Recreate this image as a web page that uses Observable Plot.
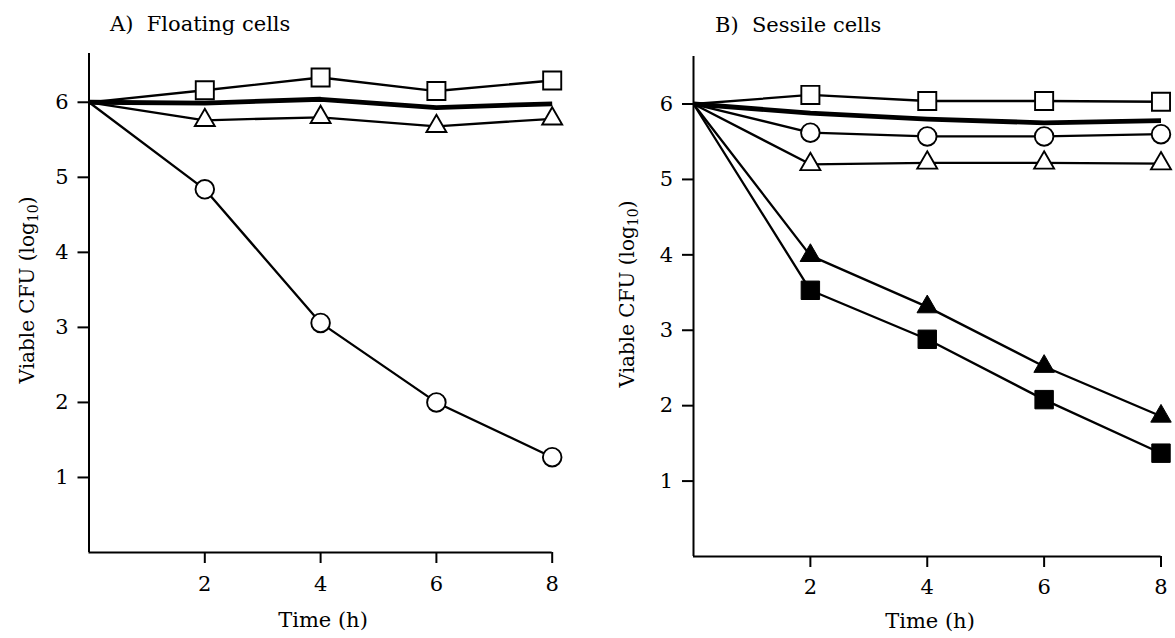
<!DOCTYPE html>
<html>
<head>
<meta charset="utf-8">
<script src="https://cdn.jsdelivr.net/npm/d3@7"></script>
<script src="https://cdn.jsdelivr.net/npm/@observablehq/plot@0.6"></script>
<style>
  body { margin: 0; background: #fff; width: 1175px; height: 638px; position: relative; overflow: hidden;
         font-family: "DejaVu Serif", serif; color: #000; }
  .panel { position: absolute; top: 0; }
  .title { position: absolute; font-size: 21px; white-space: pre; line-height: 1; }
  .ylab { position: absolute; font-size: 20px; white-space: nowrap; line-height: 1;
          transform: translate(-50%, -50%) rotate(-90deg); }
  .ylab sub { font-size: 14px; vertical-align: -4px; line-height: 0; }
  .xlab { position: absolute; font-size: 21px; white-space: nowrap; line-height: 1; transform: translateX(-50%); }
</style>
</head>
<body>
<div class="title" style="left:110px; top:14.2px;">A)  Floating cells</div>
<div class="title" style="left:715px; top:15.2px;">B)  Sessile cells</div>
<div class="ylab" style="left:27px; top:290px;">Viable CFU (log<sub>10</sub>)</div>
<div class="ylab" style="left:627px; top:294px;">Viable CFU (log<sub>10</sub>)</div>
<div class="xlab" style="left:323px; top:610px;">Time (h)</div>
<div class="xlab" style="left:930px; top:611px;">Time (h)</div>
<div id="pa" class="panel" style="left:0px;"></div>
<div id="pb" class="panel" style="left:600px;"></div>
<script>
// ---- Data ----
const hours = [0, 2, 4, 6, 8];
const xTicks = [2, 4, 6, 8];
const yTicks = [1, 2, 3, 4, 5, 6];

// Panel A: Floating cells
const aOpenSquare   = [6, 6.16, 6.33, 6.15, 6.29];
const aThick        = [6, 5.99, 6.04, 5.93, 5.98];
const aOpenTriangle = [6, 5.76, 5.80, 5.68, 5.78];
const aOpenCircle   = [6, 4.84, 3.06, 2.00, 1.27];

// Panel B: Sessile cells
const bOpenSquare     = [6, 6.12, 6.04, 6.04, 6.03];
const bThick          = [6, 5.88, 5.80, 5.75, 5.78];
const bOpenCircle     = [6, 5.62, 5.57, 5.57, 5.60];
const bOpenTriangle   = [6, 5.20, 5.22, 5.22, 5.21];
const bFilledTriangle = [6, 3.99, 3.31, 2.52, 1.86];
const bFilledSquare   = [6, 3.53, 2.88, 2.08, 1.37];

const rows = vals => hours.map((t, i) => ({t, v: vals[i]}));

const markerStyle = {
  openSquare:     {symbol: "square",   r: 10.2, fill: "white", stroke: "black", strokeWidth: 1.9},
  openTriangle:   {symbol: "triangle", r: 7.4,  fill: "white", stroke: "black", strokeWidth: 1.9},
  openCircle:     {symbol: "circle",   r: 9.3,  fill: "white", stroke: "black", strokeWidth: 1.9},
  filledTriangle: {symbol: "triangle", r: 7.6,  fill: "black", stroke: "black", strokeWidth: 1},
  filledSquare:   {symbol: "square",   r: 10.4, fill: "black", stroke: "black", strokeWidth: 1}
};

function panel(cfg) {
  const marks = [];
  for (const s of cfg.series) {
    marks.push(Plot.line(rows(s.values), {x: "t", y: "v", stroke: "black",
      strokeWidth: s.marker ? 2.3 : 4.8, strokeLinejoin: "round", strokeLinecap: "butt"}));
  }
  for (const s of cfg.series) {
    if (!s.marker) continue;
    marks.push(Plot.dot(rows(s.values).filter(d => d.t > 0), {x: "t", y: "v", ...markerStyle[s.marker]}));
  }
  marks.push(Plot.ruleX([0], {stroke: "black", strokeWidth: 2}));
  marks.push(Plot.ruleY([0], {stroke: "black", strokeWidth: 2}));
  marks.push(Plot.axisX({ticks: xTicks, tickFormat: "d", tickSize: 11, tickPadding: cfg.xPad, label: null,
    strokeWidth: 2, fontSize: 21, fontFamily: "DejaVu Serif"}));
  marks.push(Plot.axisY({ticks: yTicks, tickFormat: "d", tickSize: 11, tickPadding: 9.5, label: null,
    strokeWidth: 2, fontSize: 21, fontFamily: "DejaVu Serif"}));
  return Plot.plot({
    width: cfg.width, height: 638,
    marginLeft: cfg.ml, marginRight: cfg.mr, marginTop: cfg.mt, marginBottom: cfg.mb,
    x: {domain: [0, 8]},
    y: {domain: [0, cfg.yMax]},
    style: {fontFamily: "'DejaVu Serif', serif", fontSize: "21px", color: "black", background: "transparent", overflow: "visible"},
    marks
  });
}

document.getElementById("pa").append(panel({
  width: 590, ml: 88.5, mr: 38.3, mt: 53, mb: 86, yMax: 6.65, xPad: 13,
  series: [
    {values: aThick},
    {values: aOpenSquare, marker: "openSquare"},
    {values: aOpenTriangle, marker: "openTriangle"},
    {values: aOpenCircle, marker: "openCircle"}
  ]
}));

document.getElementById("pb").append(panel({
  width: 575, ml: 93, mr: 14.5, mt: 56, mb: 82, yMax: 6.63, xPad: 12,
  series: [
    {values: bThick},
    {values: bOpenSquare, marker: "openSquare"},
    {values: bOpenCircle, marker: "openCircle"},
    {values: bOpenTriangle, marker: "openTriangle"},
    {values: bFilledTriangle, marker: "filledTriangle"},
    {values: bFilledSquare, marker: "filledSquare"}
  ]
}));
</script>
</body>
</html>
